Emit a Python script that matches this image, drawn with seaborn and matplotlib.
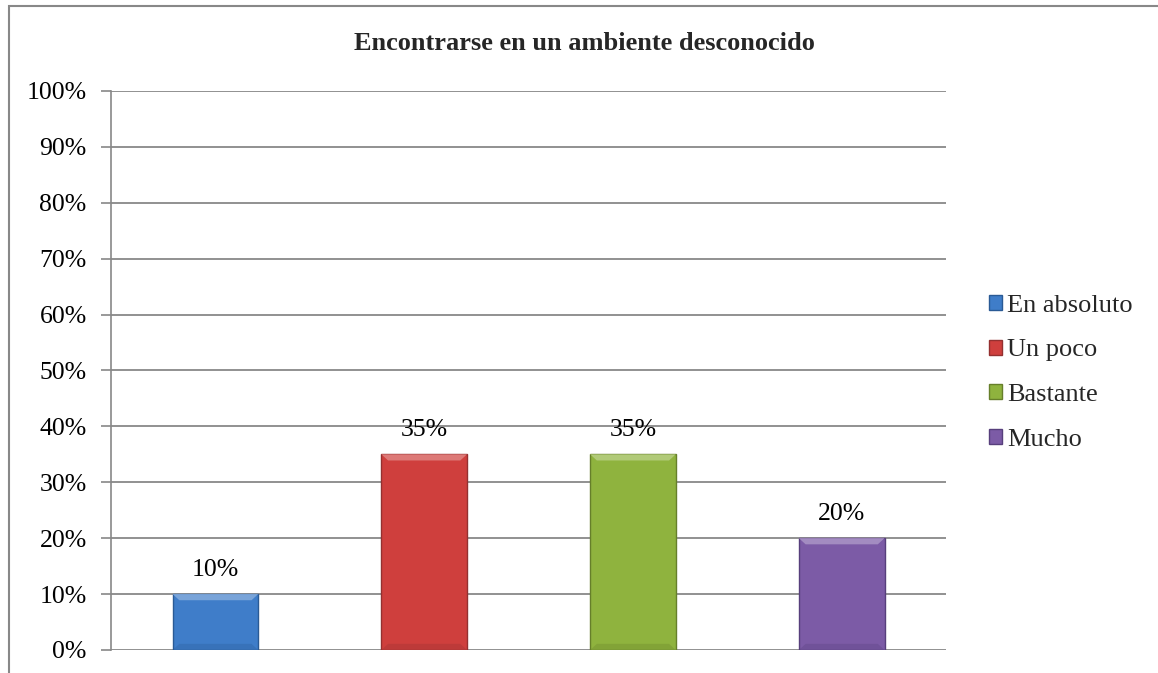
import matplotlib
matplotlib.use("Agg")
import matplotlib.pyplot as plt
import seaborn as sns
import pandas as pd
from matplotlib.patches import Rectangle, Polygon
from matplotlib.ticker import PercentFormatter
import matplotlib.colors as mcolors

categories = ["En absoluto", "Un poco", "Bastante", "Mucho"]
values = [10, 35, 35, 20]
colors = ["#3f7dc9", "#cf3f3d", "#8fb33e", "#7c5ba6"]
edges = ["#2a5a95", "#943030", "#667f2a", "#573f7c"]
title = "Encontrarse en un ambiente desconocido"

sns.set_theme(style="white")
plt.rcParams["font.family"] = ["Liberation Serif", "DejaVu Serif"]

df = pd.DataFrame({"cat": categories, "val": values})

fig = plt.figure(figsize=(11.58, 6.73), dpi=100)
ax = fig.add_axes([0.0959, 0.0342, 0.7211, 0.8306])

sns.barplot(data=df, x="cat", y="val", hue="cat", palette=colors,
            dodge=False, width=0.41, saturation=1, ax=ax, legend=False)

ax.set_ylim(0, 100)
ax.set_xlim(-0.5, len(categories) - 0.5)


def lighten(c, amt):
    r, g, b = mcolors.to_rgb(c)
    return (r + (1 - r) * amt, g + (1 - g) * amt, b + (1 - b) * amt)


# bevelled look: lighter top facet, slightly darker lower facet
bx, by = 0.032, 1.1
for patch, fc, ec in zip(ax.patches, colors, edges):
    patch.set_edgecolor(ec)
    patch.set_linewidth(1.0)
    patch.set_zorder(3)
    x0, y0 = patch.get_x(), patch.get_y()
    w, h = patch.get_width(), patch.get_height()
    x1, y1 = x0 + w, y0 + h
    ax.add_patch(Polygon([(x0, y1), (x1, y1), (x1 - bx, y1 - by),
                          (x0 + bx, y1 - by)], closed=True,
                         facecolor=lighten(fc, 0.3), edgecolor="none",
                         zorder=4))
    ax.add_patch(Polygon([(x0, y0), (x1, y0), (x1 - bx, y0 + by),
                          (x0 + bx, y0 + by)], closed=True,
                         facecolor=ec, alpha=0.3, edgecolor="none",
                         zorder=4))

ax.set_yticks(range(0, 101, 10))
ax.yaxis.set_major_formatter(PercentFormatter(decimals=0))
ax.set_xticks([])
ax.set_xlabel("")
ax.set_ylabel("")
ax.tick_params(axis="y", labelsize=18.5, length=7, width=1.2, color="#888888",
               left=True, pad=10.5)
for lbl in ax.get_yticklabels():
    lbl.set_color("black")

ax.grid(axis="y", color="#888888", linewidth=1.3, zorder=0)
ax.set_axisbelow(True)
for side in ["top", "right", "bottom"]:
    ax.spines[side].set_visible(False)
ax.spines["left"].set_color("#888888")
ax.spines["left"].set_linewidth(1.2)

for i, v in enumerate(values):
    ax.text(i, v + 2.3, f"{v}%", ha="center", va="bottom", fontsize=18.5,
            color="black")

fig.text(0.505, 0.936, title, ha="center", va="center", fontsize=19,
         fontweight="bold")

handles = [Rectangle((0, 0), 1, 1, facecolor=c, edgecolor=e, linewidth=1)
           for c, e in zip(colors, edges)]
fig.legend(handles, categories, loc="center left",
           bbox_to_anchor=(0.854, 0.446), frameon=False, fontsize=19,
           handlelength=0.5, handleheight=0.5, handletextpad=0.2,
           labelspacing=0.86, borderpad=0, borderaxespad=0)

fig.patches.append(Rectangle((9 / 1158, -0.1), 1.2, 1 - 6.5 / 673 + 0.1,
                             transform=fig.transFigure, fill=False,
                             edgecolor="#888888", linewidth=1.5))

fig.savefig("out.png", dpi=100, facecolor="white")
